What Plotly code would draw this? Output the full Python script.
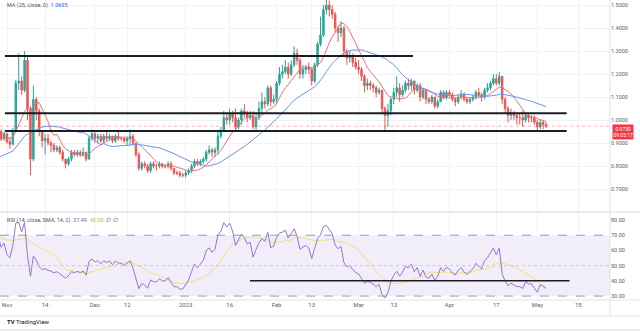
import pandas as pd
import numpy as np
import plotly.graph_objects as go

# ---------------- data (daily, 2022-10-01 .. 2023-05-04) ----------------
start_date = "2022-10-01"
end_date = "2023-05-04"

oct_c = [0.76,0.75,0.76,0.80,0.79,0.79,0.78,0.78,0.79,0.77,0.76,0.78,0.79,0.80,0.80,0.82,0.84,0.82,0.80,0.85,0.87,0.89,0.91,0.88,0.92,0.94,0.90,0.92,0.95,0.92,0.94]
oct_h = [0.77,0.77,0.77,0.81,0.81,0.80,0.80,0.79,0.80,0.80,0.78,0.79,0.80,0.81,0.81,0.83,0.85,0.85,0.83,0.86,0.88,0.90,0.92,0.92,0.93,0.96,0.95,0.93,0.96,0.96,0.95]
oct_l = [0.74,0.74,0.74,0.75,0.78,0.78,0.77,0.77,0.77,0.76,0.75,0.75,0.77,0.78,0.79,0.79,0.81,0.81,0.79,0.79,0.84,0.86,0.88,0.87,0.87,0.91,0.89,0.89,0.91,0.91,0.91]

nov_c = [0.905,0.895,0.955,1.16,1.17,1.13,1.26,1.05,0.83,1.09,1.04,0.95,0.91,0.92,0.90,0.89,0.87,0.88,0.86,0.83,0.81,0.83,0.86,0.85,0.86,0.85,0.86,0.83,0.92,0.94]
nov_h = [0.945,0.925,0.965,1.175,1.29,1.19,1.30,1.28,1.06,1.15,1.10,1.05,0.95,0.94,0.94,0.91,0.90,0.89,0.89,0.87,0.83,0.84,0.87,0.87,0.87,0.87,0.88,0.86,0.93,0.96]
nov_l = [0.895,0.875,0.89,0.95,1.13,1.11,1.12,1.00,0.76,0.82,1.00,0.93,0.88,0.85,0.89,0.86,0.86,0.86,0.85,0.82,0.79,0.80,0.82,0.84,0.84,0.84,0.85,0.82,0.83,0.91]

dec_c = [0.92,0.93,0.91,0.93,0.92,0.93,0.91,0.93,0.92,0.92,0.91,0.92,0.93,0.90,0.85,0.79,0.81,0.80,0.78,0.81,0.80,0.80,0.81,0.80,0.80,0.81,0.79,0.77,0.77,0.76,0.76]
dec_h = [0.95,0.94,0.94,0.94,0.95,0.94,0.93,0.94,0.95,0.93,0.93,0.93,0.96,0.94,0.90,0.86,0.82,0.82,0.81,0.82,0.82,0.81,0.82,0.81,0.81,0.82,0.82,0.79,0.78,0.78,0.77]
dec_l = [0.90,0.90,0.90,0.90,0.91,0.91,0.90,0.90,0.91,0.91,0.90,0.89,0.89,0.89,0.84,0.78,0.78,0.79,0.77,0.77,0.79,0.78,0.79,0.79,0.79,0.79,0.78,0.76,0.76,0.75,0.75]

jan_c = [0.77,0.78,0.80,0.82,0.81,0.82,0.83,0.86,0.87,0.86,0.87,0.93,0.95,1.01,1.00,1.03,1.01,0.97,1.00,1.04,1.03,1.01,1.02,0.97,1.01,1.05,1.08,1.07,1.14,1.08,1.09]
jan_h = [0.78,0.79,0.81,0.83,0.83,0.83,0.84,0.87,0.89,0.88,0.88,0.95,0.97,1.04,1.03,1.05,1.04,1.05,1.01,1.05,1.07,1.04,1.04,1.04,1.03,1.08,1.12,1.10,1.15,1.15,1.11]
jan_l = [0.75,0.76,0.77,0.79,0.80,0.80,0.81,0.82,0.85,0.84,0.84,0.85,0.92,0.95,0.98,0.98,0.99,0.95,0.96,0.98,1.01,0.99,1.00,0.96,0.95,1.00,1.03,1.05,1.06,1.06,1.07]

feb_c = [1.16,1.20,1.21,1.23,1.20,1.24,1.29,1.26,1.20,1.22,1.23,1.22,1.17,1.24,1.33,1.37,1.48,1.50,1.48,1.46,1.40,1.38,1.40,1.30,1.27,1.28,1.25,1.23]
feb_h = [1.17,1.23,1.24,1.26,1.25,1.26,1.32,1.31,1.27,1.24,1.24,1.25,1.23,1.25,1.34,1.45,1.50,1.53,1.52,1.50,1.47,1.41,1.43,1.41,1.31,1.30,1.29,1.27]
feb_l = [1.07,1.15,1.18,1.20,1.18,1.19,1.23,1.24,1.18,1.18,1.20,1.20,1.15,1.16,1.23,1.32,1.36,1.46,1.45,1.44,1.38,1.34,1.36,1.28,1.24,1.25,1.23,1.22]

mar_c = [1.22,1.19,1.15,1.16,1.15,1.14,1.12,1.13,1.05,1.02,1.04,1.09,1.12,1.14,1.11,1.13,1.16,1.15,1.17,1.13,1.15,1.10,1.13,1.09,1.08,1.10,1.06,1.08,1.12,1.10,1.12]
mar_h = [1.26,1.23,1.20,1.18,1.17,1.16,1.15,1.14,1.13,1.06,1.07,1.10,1.14,1.19,1.16,1.15,1.17,1.18,1.18,1.17,1.16,1.16,1.14,1.13,1.10,1.11,1.10,1.09,1.13,1.13,1.13]
mar_l = [1.20,1.17,1.12,1.13,1.13,1.12,1.10,1.11,1.03,0.95,0.97,1.02,1.07,1.10,1.08,1.10,1.12,1.13,1.13,1.11,1.12,1.08,1.09,1.07,1.07,1.07,1.05,1.05,1.08,1.09,1.09]

apr_c = [1.11,1.09,1.08,1.10,1.11,1.09,1.08,1.09,1.10,1.12,1.11,1.10,1.13,1.14,1.16,1.18,1.16,1.19,1.09,1.05,1.02,1.03,1.02,1.01,1.01,1.00,1.02,1.01,1.01,0.99]
apr_h = [1.13,1.12,1.10,1.11,1.13,1.12,1.10,1.10,1.11,1.13,1.14,1.12,1.14,1.16,1.17,1.20,1.20,1.21,1.19,1.10,1.06,1.05,1.04,1.03,1.03,1.04,1.03,1.03,1.02,1.02]
apr_l = [1.10,1.08,1.06,1.07,1.09,1.08,1.07,1.07,1.08,1.09,1.10,1.08,1.09,1.12,1.13,1.15,1.15,1.15,1.07,1.03,0.99,1.00,1.00,0.98,0.98,0.97,0.99,0.99,0.99,0.98]

may_c = [0.97,0.99,0.98,0.973]
may_h = [1.00,1.00,1.00,0.99]
may_l = [0.95,0.96,0.96,0.965]

first_open = 0.75

# horizontal levels drawn on the chart
price_levels = [1.278, 1.030, 0.952]
level_starts = ["2022-10-31 07:00", "2022-10-31 07:00", "2022-10-31 07:00"]
level_ends = ["2023-03-19 14:00", "2023-05-11 00:00", "2023-05-11 00:00"]
rsi_level = 40
rsi_level_start = "2023-01-22 22:00"
rsi_level_end = "2023-05-12 00:00"

price_ticks = [0.7, 0.8, 0.9, 1.0, 1.1, 1.2, 1.3, 1.4, 1.5]
rsi_ticks = [30, 40, 50, 60, 70, 80]
date_ticks = ["2022-11-01", "2022-11-14", "2022-12-01", "2022-12-12", "2023-01-01", "2023-01-16",
              "2023-02-01", "2023-02-13", "2023-03-01", "2023-03-13", "2023-04-01", "2023-04-17",
              "2023-05-01", "2023-05-15"]
date_labels = ["Nov", "14", "Dec", "12", "2023", "16", "Feb", "13", "Mar", "13", "Apr", "17", "May", "15"]

last_price_text = "0.9730"
countdown_text = "09:05:17"
ma_legend_value = "1.0695"
rsi_legend_value = "37.49"
rsi_ma_legend_value = "40.08"

# ---------------- assemble ----------------
dates = pd.date_range(start_date, end_date, freq="D")
close = oct_c + nov_c + dec_c + jan_c + feb_c + mar_c + apr_c + may_c
high = oct_h + nov_h + dec_h + jan_h + feb_h + mar_h + apr_h + may_h
low = oct_l + nov_l + dec_l + jan_l + feb_l + mar_l + apr_l + may_l
assert len(close) == len(dates) == len(high) == len(low), (len(close), len(dates), len(high), len(low))
open_ = [first_open] + close[:-1]

s = pd.Series(close)
ma_fast = s.rolling(9).mean()
ma_slow = s.rolling(25).mean()
delta = s.diff().fillna(0)
gain = delta.clip(lower=0)
loss = -delta.clip(upper=0)
avg_g = gain.ewm(alpha=1 / 14, adjust=False).mean()
avg_l = loss.ewm(alpha=1 / 14, adjust=False).mean()
rsi = 100 - 100 / (1 + avg_g / avg_l)
rsi_ma = rsi.rolling(14).mean()

FONT = "Roboto"
fig = go.Figure()
fig.add_trace(go.Candlestick(
    x=dates, open=open_, high=high, low=low, close=close,
    increasing=dict(line=dict(color="#26A69A", width=1), fillcolor="#26A69A"),
    decreasing=dict(line=dict(color="#EF5350", width=1), fillcolor="#EF5350"),
    whiskerwidth=0, showlegend=False, xaxis="x", yaxis="y"))
fig.add_trace(go.Scatter(x=dates, y=ma_fast, mode="lines", line=dict(color="#F0707A", width=1),
                         showlegend=False, xaxis="x", yaxis="y"))
fig.add_trace(go.Scatter(x=dates, y=ma_slow, mode="lines", line=dict(color="#6C93EC", width=1),
                         showlegend=False, xaxis="x", yaxis="y"))
fig.add_trace(go.Scatter(x=dates, y=rsi_ma, mode="lines", line=dict(color="#EDE27A", width=1),
                         showlegend=False, xaxis="x2", yaxis="y2"))
fig.add_trace(go.Scatter(x=dates, y=rsi, mode="lines", line=dict(color="#9575CD", width=1),
                         showlegend=False, xaxis="x2", yaxis="y2"))

x0 = pd.Timestamp("2022-11-01") - pd.Timedelta(days=2.39)
x1 = pd.Timestamp("2022-11-01") + pd.Timedelta(days=205.8)

grid = "#F0F2F7"
main_bottom = 0.2933
rsi_top = 0.29

shapes = []
# RSI band and guide lines
shapes.append(dict(type="rect", xref="paper", yref="y2", x0=0, x1=1, y0=30, y1=70,
                   fillcolor="rgba(126,87,194,0.10)", line=dict(width=0), layer="below"))
for lv, dash, col in [(70, "dash", "#9a9ca6"), (30, "dash", "#9a9ca6"), (50, "dot", "#c8cad2")]:
    shapes.append(dict(type="line", xref="paper", yref="y2", x0=0, x1=1, y0=lv, y1=lv,
                       line=dict(color=col, width=1, dash=dash)))
# user-drawn levels
for lv, a, b in zip(price_levels, level_starts, level_ends):
    shapes.append(dict(type="line", xref="x", yref="y", x0=a, x1=b, y0=lv, y1=lv,
                       line=dict(color="#1b1d24", width=2)))
shapes.append(dict(type="line", xref="x2", yref="y2", x0=rsi_level_start, x1=rsi_level_end,
                   y0=rsi_level, y1=rsi_level, line=dict(color="#1b1d24", width=1.5)))
# last price line
shapes.append(dict(type="line", xref="paper", yref="y", x0=0, x1=1, y0=float(last_price_text),
                   y1=float(last_price_text), line=dict(color="rgba(239,83,80,0.45)", width=1, dash="dot")))
# pane separators / frame
shapes.append(dict(type="line", xref="paper", yref="paper", x0=0, x1=640 / 610, y0=main_bottom, y1=main_bottom,
                   line=dict(color="#D6D9E0", width=1)))
shapes.append(dict(type="line", xref="paper", yref="paper", x0=0, x1=640 / 610, y0=0, y1=0,
                   line=dict(color="#E0E3EB", width=1)))
shapes.append(dict(type="line", xref="paper", yref="paper", x0=0, x1=640 / 610, y0=-16 / 300, y1=-16 / 300,
                   line=dict(color="#E0E3EB", width=1)))
shapes.append(dict(type="line", xref="paper", yref="paper", x0=0, x1=640 / 610, y0=-30 / 300, y1=-30 / 300,
                   line=dict(color="#D6D9E0", width=1)))
shapes.append(dict(type="line", xref="paper", yref="paper", x0=1, x1=1, y0=-16 / 300, y1=1,
                   line=dict(color="#E0E3EB", width=1)))

annotations = [
    dict(xref="paper", yref="paper", x=0.008, y=1.0, xanchor="left", yanchor="top", showarrow=False,
         text='MA (25, close, 0)  <span style="color:#2962FF">' + ma_legend_value + '</span>',
         font=dict(family=FONT, size=5.5, color="#50535e")),
    dict(xref="paper", yref="paper", x=0.008, y=rsi_top - 0.005, xanchor="left", yanchor="top", showarrow=False,
         text='RSI (14, close, SMA, 14, 2)  <span style="color:#7E57C2">' + rsi_legend_value +
              '</span>  <span style="color:#C9BB2E">' + rsi_ma_legend_value + '</span>  ∅ ∅',
         font=dict(family=FONT, size=5.5, color="#50535e")),
    dict(xref="paper", yref="y", x=1.003, y=float(last_price_text), xanchor="left", yanchor="top",
         yshift=2.5, showarrow=False, text=last_price_text + "<br>" + countdown_text, bgcolor="#F23645",
         font=dict(family=FONT, size=5, color="white"), borderpad=0.5, align="center"),
    dict(xref="paper", yref="paper", x=0.008, y=-21 / 300, xanchor="left", yanchor="middle", showarrow=False,
         text="<b>TV</b> TradingView", font=dict(family=FONT, size=6, color="#131722")),
]

fig.update_layout(
    width=640, height=332,
    margin=dict(l=0, r=30, t=0, b=32),
    paper_bgcolor="white", plot_bgcolor="white",
    font=dict(family=FONT, size=6, color="#6a6d78"),
    showlegend=False,
    shapes=shapes, annotations=annotations,
    xaxis=dict(domain=[0, 1], anchor="y", range=[x0, x1], type="date",
               tickvals=date_ticks, showticklabels=False, showgrid=True, gridcolor=grid,
               zeroline=False, showline=False, rangeslider=dict(visible=False), fixedrange=True),
    xaxis2=dict(domain=[0, 1], anchor="y2", range=[x0, x1], type="date",
                tickvals=date_ticks, ticktext=date_labels, showgrid=True, gridcolor=grid,
                tickfont=dict(size=6, color="#5d606b"), ticks="", zeroline=False, showline=False),
    yaxis=dict(domain=[main_bottom, 1], anchor="x", range=[0.6, 1.522], side="right",
               tickvals=price_ticks, ticktext=["%.4f" % v for v in price_ticks],
               tickfont=dict(size=5.5, color="#5d606b"), showgrid=True, gridcolor=grid,
               zeroline=False, ticks=""),
    yaxis2=dict(domain=[0, rsi_top], anchor="x2", range=[27.4, 84.6], side="right",
                tickvals=rsi_ticks, ticktext=["%.2f" % v for v in rsi_ticks],
                tickfont=dict(size=5.5, color="#5d606b"), showgrid=False, zeroline=False, ticks=""),
)

fig.write_html("out.html")
